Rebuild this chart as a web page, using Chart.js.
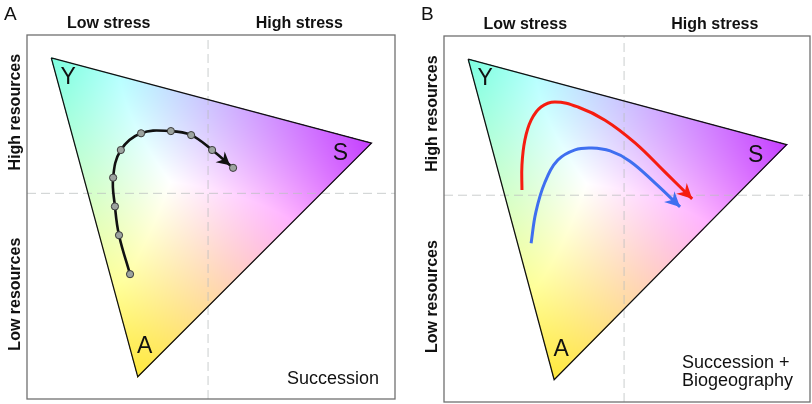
<!DOCTYPE html>
<html><head><meta charset="utf-8">
<script src="https://cdn.jsdelivr.net/npm/chart.js@4.4.1/dist/chart.umd.min.js"></script>
<style>
html,body{margin:0;padding:0;background:#fff;overflow:hidden}
#wrap{position:relative;width:812px;height:404px;background:#fff}
canvas{position:absolute;top:0}
</style></head><body>
<div id="wrap">
<canvas id="cA" width="406" height="404" style="left:0"></canvas>
<canvas id="cB" width="406" height="404" style="left:406px"></canvas>
</div>
<script>
// ---- data ----
const panelLetters = ['A', 'B'];
const stressLabels = ['Low stress', 'High stress'];
const stressTicks = [22.2, 74.0];
const resourceLabels = ['High resources', 'Low resources'];
const resourceTicks = [78.8, 28.8];
const vertexNames = ['Y', 'S', 'A'];
const vertexX = [6.6, 93.6, 30.1];
const vertexY = [93.7, 70.3, 6.1];
const stressSplit = 49.2;
const resourceSplit = 56.5;
const captionA = ['Succession'];
const captionB = ['Succession +', 'Biogeography'];

const successionX = [28.0, 25.0, 23.9, 23.4, 25.5, 31.0, 39.1, 44.6, 50.3, 56.0];
const successionY = [34.3, 45.0, 52.9, 60.8, 68.4, 73.0, 73.6, 72.5, 68.4, 63.5];

const redX = [21.3, 21.3, 22.1, 23.8, 26.5, 30.3, 36.6, 44.0, 52.2, 60.4, 67.8];
const redY = [57.9, 64.8, 71.6, 77.0, 80.6, 82.0, 80.6, 77.0, 70.8, 62.8, 55.5];

const blueX = [23.8, 25.1, 27.6, 31.1, 35.8, 40.4, 45.4, 50.8, 57.7, 64.5];
const blueY = [43.4, 51.9, 60.1, 66.1, 68.9, 69.4, 68.6, 65.8, 59.8, 53.3];

// ---- helpers ----
const FONT = "'Liberation Sans', Arial, Helvetica, sans-serif";
const zip = (xs, ys) => xs.map((x, i) => ({x: x, y: ys[i]}));
const vertexColors = [[108, 240, 208], [186, 52, 244], [248, 226, 52]];
const vertexPow = [1.8, 1.45, 1.65];

function drawGradient(chart) {
  const xs = chart.scales.x, ys = chart.scales.y, ctx = chart.ctx;
  const P = vertexX.map((v, i) => [xs.getPixelForValue(v), ys.getPixelForValue(vertexY[i])]);
  const minX = Math.floor(Math.min(...P.map(p => p[0]))), maxX = Math.ceil(Math.max(...P.map(p => p[0])));
  const minY = Math.floor(Math.min(...P.map(p => p[1]))), maxY = Math.ceil(Math.max(...P.map(p => p[1])));
  const w = maxX - minX + 1, h = maxY - minY + 1;
  const img = ctx.getImageData(minX, minY, w, h);
  const d = img.data;
  const [x1, y1] = P[0], [x2, y2] = P[1], [x3, y3] = P[2];
  const det = (y2 - y3) * (x1 - x3) + (x3 - x2) * (y1 - y3);
  for (let j = 0; j < h; j++) {
    for (let i = 0; i < w; i++) {
      const px = minX + i + 0.5, py = minY + j + 0.5;
      let b1 = ((y2 - y3) * (px - x3) + (x3 - x2) * (py - y3)) / det;
      let b2 = ((y3 - y1) * (px - x3) + (x1 - x3) * (py - y3)) / det;
      let b3 = 1 - b1 - b2;
      if (b1 < -0.002 || b2 < -0.002 || b3 < -0.002) continue;
      const bs = [Math.max(0, b1), Math.max(0, b2), Math.max(0, b3)];
      let r = 255, g = 255, b = 255;
      for (let k = 0; k < 3; k++) {
        const f = Math.pow(bs[k], vertexPow[k]), c = vertexColors[k];
        r -= f * (255 - c[0]); g -= f * (255 - c[1]); b -= f * (255 - c[2]);
      }
      const lift = 255 - Math.max(r, g, b);
      r += lift; g += lift; b += lift;
      const o = (j * w + i) * 4;
      d[o] = r; d[o + 1] = g; d[o + 2] = b; d[o + 3] = 255;
    }
  }
  ctx.putImageData(img, minX, minY);
}

function drawArrow(ctx, meta, cfg) {
  const pts = meta.data;
  const last = pts[pts.length - 1];
  const prev = pts[pts.length - 2];
  let bx = last.cp1x, by = last.cp1y;
  if (bx === undefined || (Math.abs(bx - last.x) < 0.5 && Math.abs(by - last.y) < 0.5)) { bx = prev.x; by = prev.y; }
  let dx = last.x - bx, dy = last.y - by;
  const len = Math.hypot(dx, dy); dx /= len; dy /= len;
  const nx = -dy, ny = dx;
  const tx = last.x - dx * cfg.offset, ty = last.y - dy * cfg.offset;
  const L = cfg.len, W = cfg.width;
  ctx.save();
  ctx.fillStyle = cfg.color;
  ctx.beginPath();
  ctx.moveTo(tx, ty);
  ctx.lineTo(tx - dx * L + nx * W, ty - dy * L + ny * W);
  ctx.lineTo(tx - dx * L * 0.68, ty - dy * L * 0.68);
  ctx.lineTo(tx - dx * L - nx * W, ty - dy * L - ny * W);
  ctx.closePath();
  ctx.fill();
  ctx.restore();
}

const decor = {
  id: 'decor',
  beforeDatasetsDraw(chart) { drawGradient(chart); },
  afterDatasetsDraw(chart, args, opts) {
    const ctx = chart.ctx, a = chart.chartArea, xs = chart.scales.x, ys = chart.scales.y;
    (opts.arrows || []).forEach(cfg => drawArrow(ctx, chart.getDatasetMeta(cfg.ds), cfg));
    ctx.save();
    ctx.strokeStyle = '#707070';
    ctx.lineWidth = 1.3;
    ctx.strokeRect(a.left, a.top, a.right - a.left, a.bottom - a.top);
    ctx.fillStyle = '#111';
    ctx.font = '19px ' + FONT;
    ctx.textAlign = 'left'; ctx.textBaseline = 'alphabetic';
    ctx.fillText(opts.letter, a.left - 23, 20);
    ctx.font = 'bold 16px ' + FONT;
    ctx.textAlign = 'center';
    stressLabels.forEach((t, i) => ctx.fillText(t, xs.getPixelForValue(stressTicks[i]), a.top - 7));
    resourceLabels.forEach((t, i) => {
      ctx.save();
      ctx.translate(a.left - 7.5, ys.getPixelForValue(resourceTicks[i]));
      ctx.rotate(-Math.PI / 2);
      ctx.textAlign = 'center';
      ctx.fillText(t, 0, 0);
      ctx.restore();
    });
    ctx.font = '23px ' + FONT;
    ctx.textAlign = 'center';
    const offs = [[17, 18], [-31, 9], [7, -32]];
    vertexNames.forEach((t, i) => {
      const px = xs.getPixelForValue(vertexX[i]) + offs[i][0];
      const py = ys.getPixelForValue(vertexY[i]) + offs[i][1] + 23 * 0.36;
      ctx.fillText(t, px, py);
    });
    ctx.font = '18px ' + FONT;
    if (opts.caption.length === 1) {
      ctx.textAlign = 'right';
      ctx.fillText(opts.caption[0], a.right - 16, a.bottom - 15);
    } else {
      ctx.textAlign = 'left';
      ctx.fillText(opts.caption[0], a.right - 128, a.bottom - 34);
      ctx.fillText(opts.caption[1], a.right - 128, a.bottom - 16);
    }
    ctx.restore();
  }
};

function baseDatasets() {
  const tri = zip(vertexX.concat([vertexX[0]]), vertexY.concat([vertexY[0]]));
  return [
    {data: tri, showLine: true, borderColor: '#111', borderWidth: 1.3, pointRadius: 0, tension: 0, order: 5},
    {data: [{x: stressSplit, y: 0}, {x: stressSplit, y: 100}], showLine: true, borderColor: 'rgba(185,190,190,0.75)',
     borderWidth: 1, borderDash: [9, 5], pointRadius: 0, order: 8},
    {data: [{x: 0, y: resourceSplit}, {x: 100, y: resourceSplit}], showLine: true, borderColor: 'rgba(185,190,190,0.75)',
     borderWidth: 1, borderDash: [9, 5], pointRadius: 0, order: 8}
  ];
}

function makeChart(id, datasets, padding, pluginOpts) {
  return new Chart(document.getElementById(id), {
    type: 'scatter',
    data: {datasets: datasets},
    options: {
      responsive: false, animation: false, events: [],
      layout: {padding: padding},
      scales: {
        x: {type: 'linear', min: 0, max: 100, display: false},
        y: {type: 'linear', min: 0, max: 100, display: false}
      },
      plugins: {legend: {display: false}, tooltip: {enabled: false}, decor: pluginOpts}
    },
    plugins: [decor]
  });
}

const dsA = [
  {data: zip(successionX, successionY), showLine: true, borderColor: '#111', borderWidth: 2.6, tension: 0.4,
   pointRadius: 3.6, pointBackgroundColor: '#9ca39f', pointBorderColor: '#3a3a3a', pointBorderWidth: 1, order: 0}
].concat(baseDatasets());

const dsB = [
  {data: zip(redX, redY), showLine: true, borderColor: '#f61c10', borderWidth: 3, tension: 0.4, pointRadius: 0, order: 0},
  {data: zip(blueX, blueY), showLine: true, borderColor: '#3f6ff0', borderWidth: 3, tension: 0.4, pointRadius: 0, order: 1}
].concat(baseDatasets());

makeChart('cA', dsA, {left: 27, right: 11, top: 35, bottom: 2},
  {letter: panelLetters[0], caption: captionA, arrows: [{ds: 0, offset: 4, len: 13, width: 7, color: '#111'}]});
makeChart('cB', dsB, {left: 38, right: 2, top: 36, bottom: 2},
  {letter: panelLetters[1], caption: captionB, arrows: [
    {ds: 0, offset: 0, len: 15, width: 7.5, color: '#f61c10'},
    {ds: 1, offset: 0, len: 15, width: 7.5, color: '#3f6ff0'}]});
</script>
</body></html>
